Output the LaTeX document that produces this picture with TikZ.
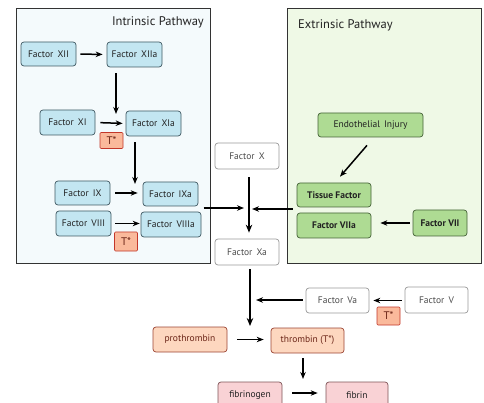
\documentclass[tikz,border=0pt]{standalone}
\usepackage{fontspec}
\setmainfont{PT Sans}
\usetikzlibrary{arrows.meta}
\definecolor{txt}{HTML}{222222}
\definecolor{bluefill}{HTML}{C3E6F1}
\definecolor{blueline}{HTML}{3F5963}
\definecolor{greenfill}{HTML}{AEDB93}
\definecolor{greenline}{HTML}{456238}
\definecolor{orangefill}{HTML}{FDD7BF}
\definecolor{orangeline}{HTML}{9C4433}
\definecolor{pinkfill}{HTML}{F9D2D5}
\definecolor{pinkline}{HTML}{7F5558}
\definecolor{tfill}{HTML}{FAB99B}
\definecolor{tline}{HTML}{C2372A}
\definecolor{intbg}{HTML}{F4FAFC}
\definecolor{extbg}{HTML}{EFF9E6}
\definecolor{thrtxt}{HTML}{6A2416}
\tikzset{
  fbox/.style={rounded corners=3pt, draw, line width=0.7pt, inner sep=0pt,
    minimum height=25pt, text=txt, font=\fontsize{9.5}{11}\selectfont},
  bluebox/.style={fbox, fill=bluefill, draw=blueline},
  greenbox/.style={fbox, fill=greenfill, draw=greenline},
  whitebox/.style={fbox, fill=white, draw=gray!80, text=black!70},
  orangebox/.style={fbox, fill=orangefill, draw=orangeline, text=thrtxt},
  pinkbox/.style={fbox, fill=pinkfill, draw=pinkline},
  tbox/.style={rounded corners=1pt, draw=tline, fill=tfill, line width=0.6pt, inner sep=0pt,
    text=thrtxt, font=\fontsize{11}{12}\selectfont, minimum width=23pt, minimum height=16pt},
  boldtxt/.style={font=\fontsize{9.5}{11}\selectfont\bfseries},
  panel/.style={draw=black!80, line width=1pt},
  arr/.style={-{Stealth[length=7pt,width=5.5pt]}, line width=1.5pt, black},
  bigarr/.style={-{Stealth[length=8pt,width=6.5pt]}, line width=2pt, black},
  title/.style={font=\fontsize{12.5}{14}\selectfont, text=txt, inner sep=0pt}
}
\begin{document}
\begin{tikzpicture}[x=1pt,y=-1pt]
\useasboundingbox (0,0) rectangle (484,403);
\clip (0,0) rectangle (484,403);
% panels
\node[panel, fill=intbg, minimum width=194pt, minimum height=254pt, inner sep=0pt] (intp) at (113,136) {};
\node[panel, fill=extbg, minimum width=194pt, minimum height=254pt, inner sep=0pt] (extp) at (384,136) {};
\node[title, anchor=east] (intt) at (204,22) {Intrinsic Pathway};
\node[title, anchor=west] (extt) at (298,25) {Extrinsic Pathway};
% intrinsic nodes
\node[bluebox, minimum width=55pt, minimum height=24pt] (xii) at (48.5,54) {Factor\, XII};
\node[bluebox, minimum width=55pt] (xiia) at (134.5,54.5) {Factor\, XIIa};
\node[bluebox, minimum width=55pt] (xi) at (67.5,122.5) {Factor\, XI};
\node[bluebox, minimum width=55pt] (xia) at (153.5,123.5) {Factor\, XIa};
\node[tbox] (t1) at (111.5,140.5) {T*};
\node[bluebox, minimum width=55pt, minimum height=24pt] (ix) at (82.5,193) {Factor\, IX};
\node[bluebox, minimum width=55pt, minimum height=24pt] (ixa) at (170.5,194) {Factor\, IXa};
\node[bluebox, minimum width=55pt] (viii) at (83.5,223.5) {Factor\, VIII};
\node[bluebox, minimum width=60pt] (viiia) at (171,224.5) {Factor\, VIIIa};
\node[tbox, minimum height=19pt] (t2) at (126,241.5) {T*};
% extrinsic nodes
\node[greenbox, minimum width=105pt, minimum height=24pt] (endo) at (370.5,125) {Endothelial\, Injury};
\node[greenbox, boldtxt, minimum width=74pt, minimum height=24pt] (tf) at (334,195) {Tissue Factor};
\node[greenbox, boldtxt, minimum width=74pt] (viia) at (334,225.5) {Factor VIIa};
\node[greenbox, boldtxt, minimum width=54pt, minimum height=26pt] (vii) at (440,223) {Factor VII};
% common pathway
\node[whitebox, minimum width=64pt, minimum height=26pt] (x) at (247,156) {Factor\, X};
\node[whitebox, minimum width=64pt, minimum height=26pt] (xa) at (247,252) {Factor\, Xa};
\node[whitebox, minimum width=63pt] (va) at (337.5,300.5) {Factor\, Va};
\node[whitebox, minimum width=63pt, minimum height=26pt] (v) at (436.5,300) {Factor\, V};
\node[tbox, minimum height=18pt] (t3) at (388.5,316) {T*};
\node[orangebox, minimum width=74pt] (pro) at (190,339.5) {prothrombin};
\node[orangebox, minimum width=73pt] (thr) at (307.5,340.5) {thrombin (T*)};
\node[pinkbox, minimum width=64pt, minimum height=27pt] (fgn) at (250,395.5) {fibrinogen};
\node[pinkbox, minimum width=62pt, minimum height=27pt] (fib) at (357,395.5) {fibrin};
% junction coordinates
\coordinate (j1) at (116,114);
\coordinate (j2) at (135,184);
\coordinate (jx) at (244,208);
\coordinate (jt) at (252,209);
\coordinate (jxa) at (250,326);
\coordinate (jva) at (256,300);
\coordinate (jth) at (303,379);
% arrows
\draw[arr, shorten <=4pt, shorten >=4pt] (xii.east) -- (xiia.west);
\draw[arr] (xiia.south -| j1) ++(0,6) -- (j1);
\draw[arr, shorten <=5pt, shorten >=3pt] (xi.east) -- (xia.west);
\draw[arr] (xia.south -| j2) ++(0,6) -- (j2);
\draw[arr, shorten <=5pt, shorten >=5pt] (ix.east) -- (ixa.west |- ix.east);
\draw[arr, shorten <=4pt, shorten >=1pt] (viii.east) -- (viiia.west |- viii.east);
\draw[arr] (intp.east |- jx) ++(-7,0) -- (jx);
\draw[arr] (tf.west |- jt) ++(-4,0) -- (jt);
\draw[bigarr, shorten <=8pt, shorten >=6pt] (x.south -| 249,0) -- (xa.north -| 249,0);
\draw[arr] ([xshift=-3.5pt,yshift=-8pt]endo.south) -- ([xshift=6pt,yshift=6pt]tf.north);
\draw[arr, shorten <=3pt, shorten >=9pt] (vii.west) -- (viia.east |- vii.west);
\draw[bigarr, shorten <=4pt] (xa.south -| jxa) -- (jxa);
\draw[arr] (va.west |- jva) ++(-3,0) -- (jva);
\draw[arr, shorten <=3pt, shorten >=4pt] (v.west |- va.west) -- (va.east);
\draw[arr, shorten <=10pt, shorten >=7pt] (pro.east) -- (thr.west |- pro.east);
\draw[arr, shorten <=5pt] (thr.south -| jth) -- (jth);
\draw[arr, shorten <=10pt, shorten >=8pt] (fgn.east |- 0,393) -- (fib.west |- 0,393);
\end{tikzpicture}
\end{document}
